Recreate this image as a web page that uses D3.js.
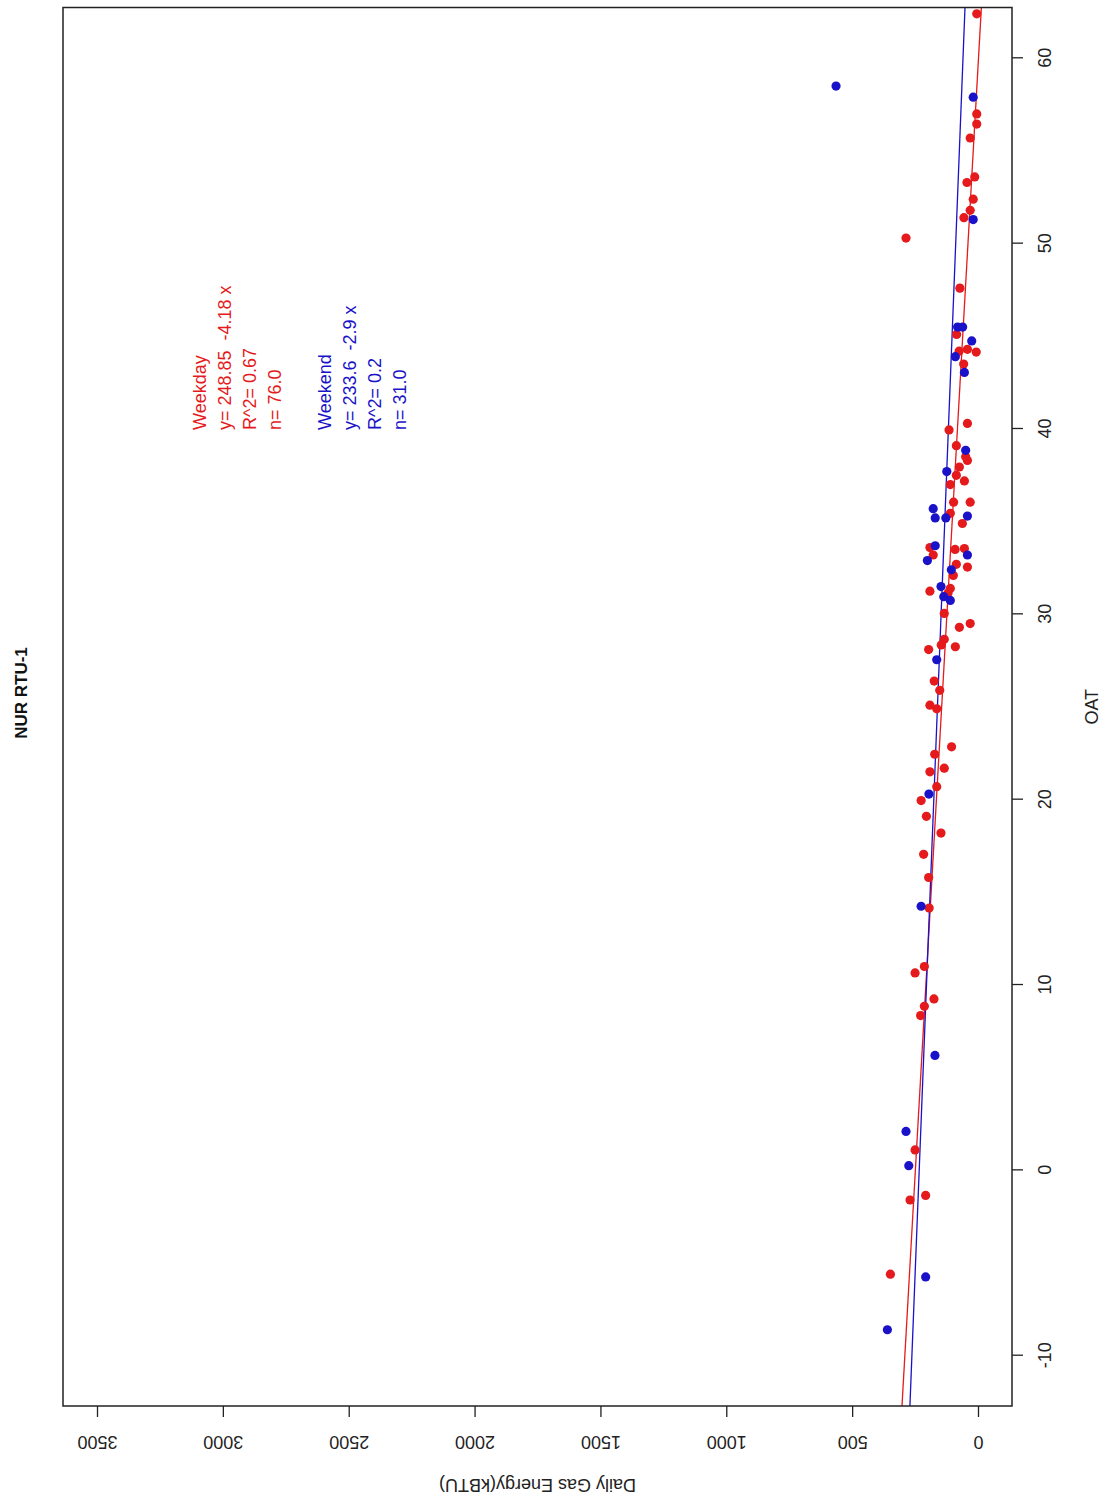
<!DOCTYPE html>
<html>
<head>
<meta charset="utf-8">
<script src="https://cdn.jsdelivr.net/npm/d3@7"></script>
<style>
  html, body { margin: 0; padding: 0; background: #fff; }
  svg { display: block; font-family: Arial, "Liberation Sans", sans-serif; }
</style>
</head>
<body>
<svg id="chart" width="1104" height="1499"></svg>
<script>
// ---- Data ----
const weekdayOAT = [62.4, 57.0, 56.45, 55.7, 53.6, 53.3, 52.4, 51.8, 51.4, 50.3, 47.6, 45.1, 44.2, 44.3, 44.15, 43.5,
  40.3, 39.95, 39.1, 38.5, 38.3, 37.95, 37.5, 37.0, 37.2, 36.05, 36.05, 35.45, 34.9, 33.6, 33.2, 33.5, 33.55, 32.7,
  32.55, 32.1, 31.25, 31.4, 31.15, 30.05, 29.3, 29.5, 28.65, 28.35, 28.1, 28.25, 26.4, 25.9, 25.1, 24.9, 22.85,
  22.45, 21.7, 21.5, 20.7, 19.95, 19.1, 18.2, 17.05, 15.8, 14.15, 11.0, 10.65, 9.25, 8.85, 8.35, 1.1, -1.6, -1.35, -5.6];
const weekdayEnergy = [5, 5, 5, 31, 13, 44, 19, 31, 56, 286, 72, 85, 75, 42, 7, 57,
  42, 115, 86, 49, 42, 74, 86, 110, 54, 97, 31, 110, 62, 191, 178, 91, 54, 86,
  42, 98, 191, 110, 119, 134, 74, 31, 134, 146, 196, 90, 174, 152, 191, 164, 105,
  172, 134, 191, 164, 226, 205, 147, 216, 196, 194, 213, 250, 175, 213, 228, 250, 270, 208, 348];

const weekendOAT = [58.5, 57.9, 51.3, 45.5, 45.5, 44.75, 43.9, 43.05, 38.85, 37.7, 35.7, 35.2, 35.2, 35.3, 33.7,
  33.2, 32.9, 32.4, 31.5, 30.95, 30.75, 27.55, 20.3, 14.25, 6.2, 2.1, 0.25, -5.75, -8.6];
const weekendEnergy = [564, 19, 19, 81, 61, 25, 90, 54, 49, 124, 178, 170, 128, 42, 170,
  42, 201, 106, 147, 136, 110, 164, 195, 226, 171, 286, 275, 208, 360];

const oatTicks = [-10, 0, 10, 20, 30, 40, 50, 60];
const energyTicks = [0, 500, 1000, 1500, 2000, 2500, 3000, 3500];

const weekdayFit = { a: 248.85, b: -4.18 };
const weekendFit = { a: 233.6, b: -2.9 };
const weekdayLabels = ["Weekday", "y= 248.85  -4.18 x", "R^2= 0.67", "n= 76.0"];
const weekendLabels = ["Weekend", "y= 233.6  -2.9 x", "R^2= 0.2", "n= 31.0"];

const titleText = "NUR RTU-1";
const xLabel = "OAT";
const yLabel = "Daily Gas Energy(kBTU)";

// ---- Layout: the plot is drawn in its original (landscape) frame and rotated 90° CCW ----
const FW = 1499, FH = 1104;          // original frame size
const RED = "#e41a1c", BLUE = "#1a12c8";
const FONT = 18;

const svg = d3.select("#chart");
const g = svg.append("g").attr("transform", `translate(0,${FW}) rotate(-90)`);

const x = d3.scaleLinear().domain([-10, 60]).range([143.3, 1440.7]);
const y = d3.scaleLinear().domain([0, 3500]).range([978, 97]);
const box = { x0: 93, x1: 1491.5, y0: 63, y1: 1012 };

g.append("defs").append("clipPath").attr("id", "plotclip")
  .append("rect").attr("x", box.x0).attr("y", box.y0)
  .attr("width", box.x1 - box.x0).attr("height", box.y1 - box.y0);

const plot = g.append("g").attr("clip-path", "url(#plotclip)");

// regression lines (abline across full plot)
const xd = [x.invert(box.x0), x.invert(box.x1)];
[[weekdayFit, RED], [weekendFit, BLUE]].forEach(([f, c]) => {
  plot.append("line")
    .attr("x1", x(xd[0])).attr("y1", y(f.a + f.b * xd[0]))
    .attr("x2", x(xd[1])).attr("y2", y(f.a + f.b * xd[1]))
    .attr("stroke", c).attr("stroke-width", 1.3);
});

// points
plot.append("g").selectAll("circle").data(weekdayOAT.map((o, i) => [o, weekdayEnergy[i]]))
  .join("circle").attr("cx", d => x(d[0])).attr("cy", d => y(d[1])).attr("r", 4.6).attr("fill", RED);
plot.append("g").selectAll("circle").data(weekendOAT.map((o, i) => [o, weekendEnergy[i]]))
  .join("circle").attr("cx", d => x(d[0])).attr("cy", d => y(d[1])).attr("r", 4.6).attr("fill", BLUE);

// box
g.append("rect").attr("x", box.x0).attr("y", box.y0)
  .attr("width", box.x1 - box.x0).attr("height", box.y1 - box.y0)
  .attr("fill", "none").attr("stroke", "#222").attr("stroke-width", 1.5);

const plain = d => String(d);

// x axis (OAT)
const gx = g.append("g").attr("transform", `translate(0,${box.y1})`)
  .call(d3.axisBottom(x).tickValues(oatTicks).tickSize(11).tickFormat(plain));
gx.select(".domain").remove();
gx.selectAll("line").attr("stroke", "#222").attr("stroke-width", 1.3);
gx.selectAll("text").attr("y", 33).attr("dy", null).attr("dominant-baseline", "central")
  .attr("font-size", FONT).attr("font-family", "Arial, 'Liberation Sans', sans-serif").attr("fill", "#222");

// y axis (energy)
const gy = g.append("g").attr("transform", `translate(${box.x0},0)`)
  .call(d3.axisLeft(y).tickValues(energyTicks).tickSize(11).tickFormat(plain));
gy.select(".domain").remove();
gy.selectAll("line").attr("stroke", "#222").attr("stroke-width", 1.3);
gy.selectAll("text").attr("x", 0).attr("y", -36).attr("dy", null)
  .attr("transform", "rotate(-90)").attr("text-anchor", "middle").attr("dominant-baseline", "central")
  .attr("font-size", FONT).attr("font-family", "Arial, 'Liberation Sans', sans-serif").attr("fill", "#222");

// axis titles
g.append("text").attr("x", (box.x0 + box.x1) / 2).attr("y", 1092)
  .attr("text-anchor", "middle").attr("dominant-baseline", "central")
  .attr("font-size", FONT).attr("fill", "#222").text(xLabel);
g.append("text").attr("transform", `translate(14,${(box.y0 + box.y1) / 2}) rotate(-90)`)
  .attr("text-anchor", "middle").attr("dominant-baseline", "central")
  .attr("font-size", FONT).attr("fill", "#222").text(yLabel);

// main title
g.append("text").attr("x", FW - 693).attr("y", 21)
  .attr("text-anchor", "middle").attr("dominant-baseline", "central")
  .attr("font-size", 17).attr("font-weight", "bold").attr("fill", "#111").text(titleText);

// annotations
function annot(lines, y0, color) {
  g.append("g").selectAll("text").data(lines).join("text")
    .attr("x", 1069).attr("y", (d, i) => y0 + i * 25)
    .attr("dominant-baseline", "central").attr("font-size", FONT)
    .attr("fill", color).attr("xml:space", "preserve").style("white-space", "pre")
    .text(d => d);
}
annot(weekdayLabels, 200, RED);
annot(weekendLabels, 325, BLUE);
</script>
</body>
</html>
